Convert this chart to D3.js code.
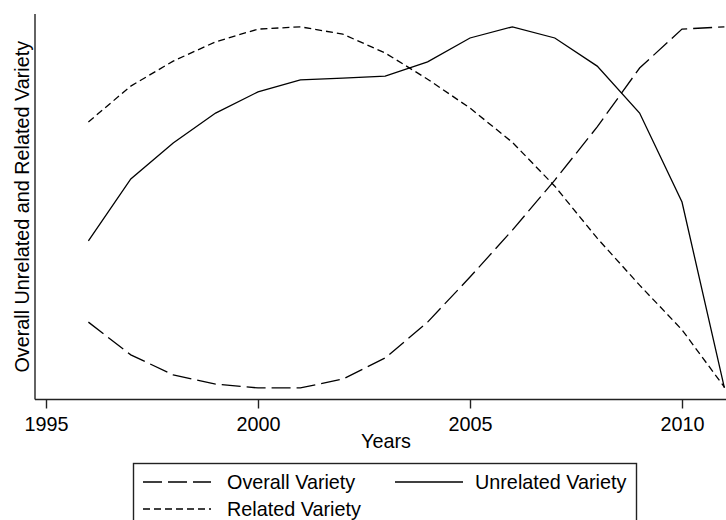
<!DOCTYPE html>
<html>
<head>
<meta charset="utf-8">
<script src="https://cdn.jsdelivr.net/npm/d3@7"></script>
<style>
	body { margin: 0; background: #fff; }
	svg { display: block; font-family: Arial, "Liberation Sans", sans-serif; }
</style>
</head>
<body>
<svg width="726" height="520"></svg>
<script>
// years on the x axis
const years = [1996, 1997, 1998, 1999, 2000, 2001, 2002, 2003, 2004, 2005, 2006, 2007, 2008, 2009, 2010, 2011]
const xTicks = [1995, 2000, 2005, 2010]

// values (unitless index, 0..100)
const overallVariety = [20.1, 11.6, 6.4, 4.0, 3.0, 3.0, 5.3, 10.8, 20.1, 31.8, 44.0, 57.0, 70.8, 86.1, 96.2, 96.8]
const unrelatedVariety = [41.2, 57.3, 66.6, 74.4, 79.9, 83.0, 83.5, 84.0, 87.7, 93.9, 96.8, 93.9, 86.6, 74.4, 51.3, 3.0]
const relatedVariety = [72.1, 81.4, 87.9, 92.9, 96.2, 96.8, 94.9, 90.0, 83.2, 75.7, 66.8, 55.4, 41.9, 29.7, 18.1, 3.2]

const seriesNames = ["Overall Variety", "Unrelated Variety", "Related Variety"]
const dashes = { "Overall Variety": "19,6", "Unrelated Variety": null, "Related Variety": "7,4" }

const series = [
	{ name: seriesNames[0], values: overallVariety },
	{ name: seriesNames[1], values: unrelatedVariety },
	{ name: seriesNames[2], values: relatedVariety },
]

var svg = d3.select("svg"),
	width = +svg.attr("width"),
	height = +svg.attr("height")

const axisLeft = 35
const axisTop = 14
const axisBottom = 399.5
const fontSize = 19.8

const x = d3.scaleLinear().domain([1995, 2011]).range([46, 724.4])
const y = d3.scaleLinear().domain([0, 100]).range([axisBottom, axisTop + 0.5])

// x axis
const xAxis = svg.append("g").attr("transform", `translate(0,${axisBottom})`)
	.call(d3.axisBottom(x).tickValues(xTicks).tickFormat(d3.format("d")).tickSize(9).tickSizeOuter(0))
xAxis.select(".domain").attr("d", `M${axisLeft},0H${width}`).attr("stroke", "#222").attr("stroke-width", 1.4)
xAxis.selectAll(".tick line").attr("stroke", "#222").attr("stroke-width", 1.4)
xAxis.selectAll(".tick text")
	.attr("y", 31.5).attr("dy", 0)
	.attr("font-size", fontSize).attr("font-family", "Arial, 'Liberation Sans', sans-serif").attr("fill", "#000")

// y axis: plain line, no ticks
svg.append("line")
	.attr("x1", axisLeft).attr("x2", axisLeft)
	.attr("y1", axisTop).attr("y2", axisBottom)
	.attr("stroke", "#222").attr("stroke-width", 1.4)

svg.append("text")
	.attr("x", 386).attr("y", 447.5)
	.attr("text-anchor", "middle").attr("font-size", fontSize)
	.text("Years")

svg.append("text")
	.attr("transform", `translate(28.5,${(axisTop + axisBottom) / 2}) rotate(-90)`)
	.attr("text-anchor", "middle").attr("font-size", fontSize)
	.text("Overall Unrelated and Related Variety")

// lines
const line = d3.line()
	.x((d, i) => x(years[i]))
	.y(d => y(d))

svg.selectAll(".series")
	.data(series)
	.enter()
	.append("path")
	.attr("class", "series")
	.attr("fill", "none")
	.attr("stroke", "#000")
	.attr("stroke-width", 1.3)
	.attr("stroke-dasharray", d => dashes[d.name])
	.attr("d", d => line(d.values))

// legend
const legend = svg.append("g")
legend.append("rect")
	.attr("x", 133.5).attr("y", 463.5)
	.attr("width", 503).attr("height", 80)
	.attr("fill", "#fff").attr("stroke", "#222").attr("stroke-width", 1.4)

const legendPos = [
	{ lx: 143, ly: 482 },
	{ lx: 395, ly: 482 },
	{ lx: 143, ly: 509 },
]

const item = legend.selectAll(".item")
	.data(series)
	.enter()
	.append("g")
	.attr("class", "item")
	.attr("transform", (d, i) => `translate(${legendPos[i].lx},${legendPos[i].ly})`)

item.append("line")
	.attr("x1", 0).attr("x2", 68)
	.attr("stroke", "#000").attr("stroke-width", 1.3)
	.attr("stroke-dasharray", d => dashes[d.name])

item.append("text")
	.attr("x", (d, i) => (i === 1 ? 80 : 84))
	.attr("y", 7)
	.attr("font-size", fontSize)
	.text(d => d.name)
</script>
</body>
</html>
